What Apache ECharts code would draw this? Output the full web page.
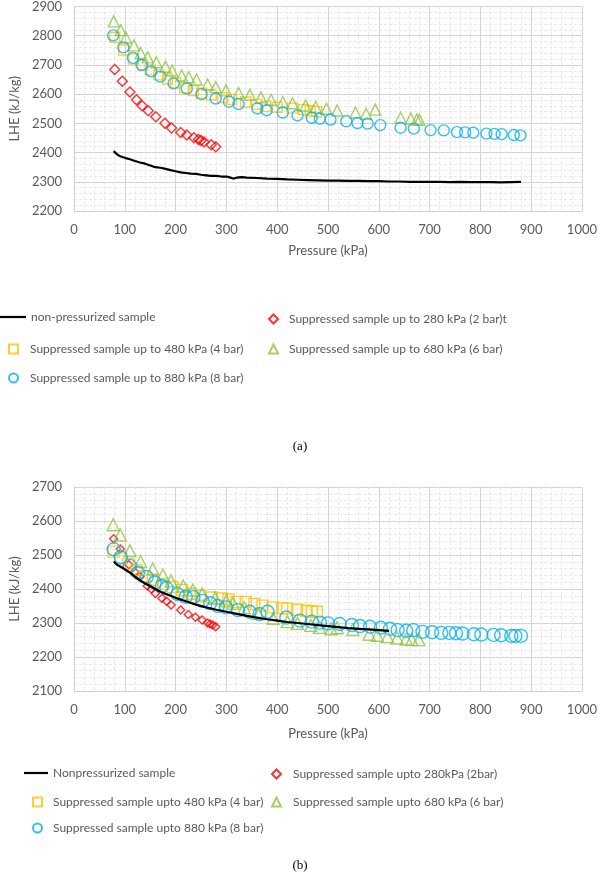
<!DOCTYPE html>
<html>
<head>
<meta charset="utf-8">
<script src="https://cdn.jsdelivr.net/npm/echarts@6/dist/echarts.min.js"></script>
<style>
html,body{margin:0;padding:0;background:#fff;}
#c{width:600px;height:881px;}
</style>
</head>
<body>
<div id="c"></div>
<script>
// ---------- tick labels ----------
const xTicks = [0,100,200,300,400,500,600,700,800,900,1000];
const aYTicks = [2200,2300,2400,2500,2600,2700,2800,2900];
const bYTicks = [2100,2200,2300,2400,2500,2600,2700];

const aNames = ['non-pressurized sample','Suppressed sample up to 280 kPa (2 bar)t','Suppressed sample up to 480 kPa (4 bar)','Suppressed sample up to 680 kPa (6 bar)','Suppressed sample up to 880 kPa (8 bar)'];
const bNames = ['Nonpressurized sample','Suppressed sample upto 280kPa (2bar)','Suppressed sample upto 480 kPa (4 bar)','Suppressed sample upto 680 kPa (6 bar)','Suppressed sample upto 880 kPa (8 bar)'];

// ---------- Chart (a) data ----------
const aBlackX = [78,82,86,90,95,100,110,120,130,140,150,160,170,180,190,200,210,220,230,240,250,260,270,280,290,300,305,310,315,320,330,340,360,380,400,420,440,460,480,500,520,540,560,580,600,620,640,660,680,700,720,740,760,780,800,820,840,860,880];
const aBlackY = [2405,2398,2392,2388,2385,2382,2377,2371,2366,2362,2356,2350,2348,2344,2340,2336,2332,2330,2328,2327,2324,2322,2320,2320,2318,2318,2316,2313,2311,2314,2316,2314,2313,2311,2310,2308,2307,2306,2305,2304,2304,2303,2303,2302,2302,2301,2301,2300,2300,2300,2300,2299,2300,2299,2299,2299,2298,2299,2300];

const aRedX = [80,95,110,123,134,146,161,179,192,210,222,236,245,250,256,270,279];
const aRedY = [2684,2644,2607,2581,2560,2543,2523,2500,2484,2469,2460,2451,2445,2441,2436,2427,2420];

const aYellowX = [80,98,117,135,150,167,184,200,218,235,251,270,293,310,338,360,377,400,430,452,465,478];
const aYellowY = [2795,2751,2720,2700,2683,2666,2652,2638,2622,2612,2603,2597,2588,2582,2573,2566,2558,2555,2552,2547,2543,2540];

const aGreenX = [78,92,102,118,131,145,162,180,193,212,226,241,263,279,299,324,346,368,388,411,430,456,476,497,518,554,575,593,643,663,675,680];
const aGreenY = [2849,2819,2794,2767,2741,2726,2709,2694,2681,2664,2658,2650,2633,2624,2613,2604,2598,2589,2581,2573,2569,2561,2556,2550,2544,2537,2533,2547,2519,2516,2513,2512];

const aBlueX = [77,97,116,133,152,170,196,222,251,279,305,324,361,379,411,440,468,484,505,536,558,578,603,643,669,702,728,754,770,786,812,828,842,866,879];
const aBlueY = [2801,2760,2724,2700,2678,2660,2637,2619,2600,2585,2574,2566,2551,2545,2537,2527,2519,2516,2513,2507,2501,2499,2494,2485,2482,2477,2476,2470,2469,2468,2465,2464,2463,2460,2459];

// ---------- Chart (b) data ----------
const bBlackX = [78,80,85,90,100,110,120,130,140,150,160,170,180,190,200,220,240,260,280,300,320,340,360,380,400,420,440,460,480,500,520,540,560,580,600,620];
const bBlackY = [2481,2476,2471,2467,2458,2448,2436,2425,2416,2408,2400,2392,2386,2380,2374,2364,2354,2346,2339,2333,2327,2321,2316,2311,2307,2303,2300,2297,2294,2291,2288,2285,2283,2281,2279,2277];

const bRedX = [78,91,108,120,130,144,152,160,173,182,191,210,225,239,252,263,268,273,279];
const bRedY = [2548,2518,2471,2450,2436,2409,2400,2387,2373,2364,2353,2338,2325,2317,2309,2300,2297,2294,2289];

const bYellowX = [78,92,107,123,139,155,175,194,213,230,249,271,291,304,320,338,355,371,391,410,420,439,458,468,478];
const bYellowY = [2510,2490,2474,2456,2438,2427,2415,2406,2397,2386,2379,2375,2372,2369,2362,2362,2356,2351,2346,2343,2343,2339,2336,2334,2333];

const bGreenX = [77,91,110,131,155,175,191,215,234,252,278,300,313,335,362,392,420,440,466,483,506,518,549,581,597,617,636,654,665,679];
const bGreenY = [2589,2559,2513,2481,2459,2441,2424,2409,2397,2385,2373,2365,2358,2345,2328,2314,2304,2299,2293,2287,2283,2286,2281,2267,2264,2260,2256,2253,2251,2251];

const bBlueX = [78,92,110,126,143,159,173,182,204,220,235,253,268,283,299,323,346,365,381,418,445,468,484,500,523,547,563,583,604,622,637,654,668,686,705,723,739,752,765,787,802,826,841,861,869,880];
const bBlueY = [2517,2494,2468,2448,2435,2419,2409,2402,2385,2377,2376,2365,2358,2350,2346,2338,2333,2326,2333,2316,2307,2304,2301,2299,2297,2294,2291,2289,2286,2283,2279,2277,2279,2274,2273,2271,2271,2270,2269,2267,2266,2265,2264,2262,2262,2262];

const pairs = (xs, ys) => xs.map((x, i) => [x, ys[i]]);

const FONT = "Lato, 'Liberation Sans', sans-serif";
const GRAY = '#595959';
const RED = '#FF0000', YEL = '#FFC000', GRN = '#8CC63E', BLU = '#00B0F0';

function tickFmt(list) {
  return function (v) { return list.indexOf(v) >= 0 ? String(v) : ''; };
}
function xAxisDef(gi, nameGap) {
  return {
    type: 'value', gridIndex: gi, min: 0, max: 1000, interval: 100,
    name: 'Pressure (kPa)', nameLocation: 'middle', nameGap: nameGap,
    nameTextStyle: { color: GRAY, fontSize: 13, fontFamily: FONT },
    axisLine: { show: true, lineStyle: { color: '#d0d0d0' } },
    axisTick: { show: false },
    axisLabel: { color: GRAY, fontSize: 13, fontFamily: FONT, margin: 12, formatter: tickFmt(xTicks) },
    splitLine: { show: true, lineStyle: { color: '#d4d4d4', width: 1 } },
    minorTick: { show: false, splitNumber: 5 },
    minorSplitLine: { show: true, lineStyle: { color: '#e8e8e8', width: 1, type: [3, 2] } }
  };
}
function yAxisDef(gi, min, max, ticks) {
  return {
    type: 'value', gridIndex: gi, min: min, max: max, interval: 100,
    name: 'LHE (kJ/kg)', nameLocation: 'middle', nameGap: 50,
    nameTextStyle: { color: GRAY, fontSize: 13, fontFamily: FONT },
    axisLine: { show: true, lineStyle: { color: '#d0d0d0' } },
    axisTick: { show: false },
    axisLabel: { color: GRAY, fontSize: 13, fontFamily: FONT, margin: 12, formatter: tickFmt(ticks) },
    splitLine: { show: true, lineStyle: { color: '#d4d4d4', width: 1 } },
    minorTick: { show: false, splitNumber: 5 },
    minorSplitLine: { show: true, lineStyle: { color: '#e8e8e8', width: 1, type: [3, 2] } }
  };
}
function scat(name, gi, data, symbol, size, color) {
  return {
    name: name, type: 'scatter', xAxisIndex: gi, yAxisIndex: gi,
    data: data, symbol: symbol, symbolSize: size,
    itemStyle: { color: 'rgba(255,255,255,0)', borderColor: color, borderWidth: 1.4 },
    emphasis: { disabled: true }
  };
}
function lineS(name, gi, data) {
  return {
    name: name, type: 'line', xAxisIndex: gi, yAxisIndex: gi,
    data: data, showSymbol: false, symbol: 'none',
    lineStyle: { color: '#000', width: 2.2 }, itemStyle: { color: '#000' },
    emphasis: { disabled: true }
  };
}
function legSym(name, left, top, pad) {
  return {
    data: [name], left: left, top: top, orient: 'horizontal', padding: 0,
    itemWidth: 9, itemHeight: 9, selectedMode: false,
    textStyle: { color: GRAY, fontSize: 12, fontFamily: FONT, padding: [0, 0, 0, pad] }
  };
}
function legLine(name, left, top, w) {
  return {
    data: [{ name: name, icon: 'rect' }], left: left, top: top, orient: 'horizontal', padding: 0,
    itemWidth: w, itemHeight: 2.2, selectedMode: false,
    textStyle: { color: GRAY, fontSize: 12, fontFamily: FONT }
  };
}

const option = {
  animation: false,
  backgroundColor: '#fff',
  grid: [
    { left: 68, right: 18, top: 6, height: 205 },
    { left: 68, right: 15, top: 487, height: 204 }
  ],
  xAxis: [xAxisDef(0, 33), xAxisDef(1, 36)],
  yAxis: [yAxisDef(0, 2200, 2900, aYTicks), yAxisDef(1, 2100, 2700, bYTicks)],
  legend: [
    legLine(aNames[0], 0, 311, 26),
    legSym(aNames[1], 268, 313, 6),
    legSym(aNames[2], 8, 343, 7),
    legSym(aNames[3], 268, 343, 6),
    legSym(aNames[4], 8, 372, 7),
    legLine(bNames[0], 24, 767, 24),
    legSym(bNames[1], 271, 768, 7),
    legSym(bNames[2], 32, 796, 6),
    legSym(bNames[3], 271, 796, 7),
    legSym(bNames[4], 32, 822, 6)
  ],
  series: [
    lineS(aNames[0], 0, pairs(aBlackX, aBlackY)),
    scat(aNames[1], 0, pairs(aRedX, aRedY), 'diamond', 10, RED),
    scat(aNames[2], 0, pairs(aYellowX, aYellowY), 'rect', 10, YEL),
    scat(aNames[3], 0, pairs(aGreenX, aGreenY), 'triangle', 11, GRN),
    scat(aNames[4], 0, pairs(aBlueX, aBlueY), 'circle', 11, BLU),
    lineS(bNames[0], 1, pairs(bBlackX, bBlackY)),
    scat(bNames[1], 1, pairs(bRedX, bRedY), 'diamond', 8, RED),
    scat(bNames[2], 1, pairs(bYellowX, bYellowY), 'rect', 11, YEL),
    scat(bNames[3], 1, pairs(bGreenX, bGreenY), 'triangle', 12, GRN),
    scat(bNames[4], 1, pairs(bBlueX, bBlueY), 'circle', 13, BLU)
  ],
  graphic: [
    { type: 'text', left: 'center', top: 440, style: { text: '(a)', fill: '#000', font: "13px 'Liberation Serif', serif" } },
    { type: 'text', left: 'center', top: 859, style: { text: '(b)', fill: '#000', font: "13px 'Liberation Serif', serif" } }
  ]
};

const chart = echarts.init(document.getElementById('c'), null, { renderer: 'canvas' });
chart.setOption(option);
</script>
</body>
</html>
